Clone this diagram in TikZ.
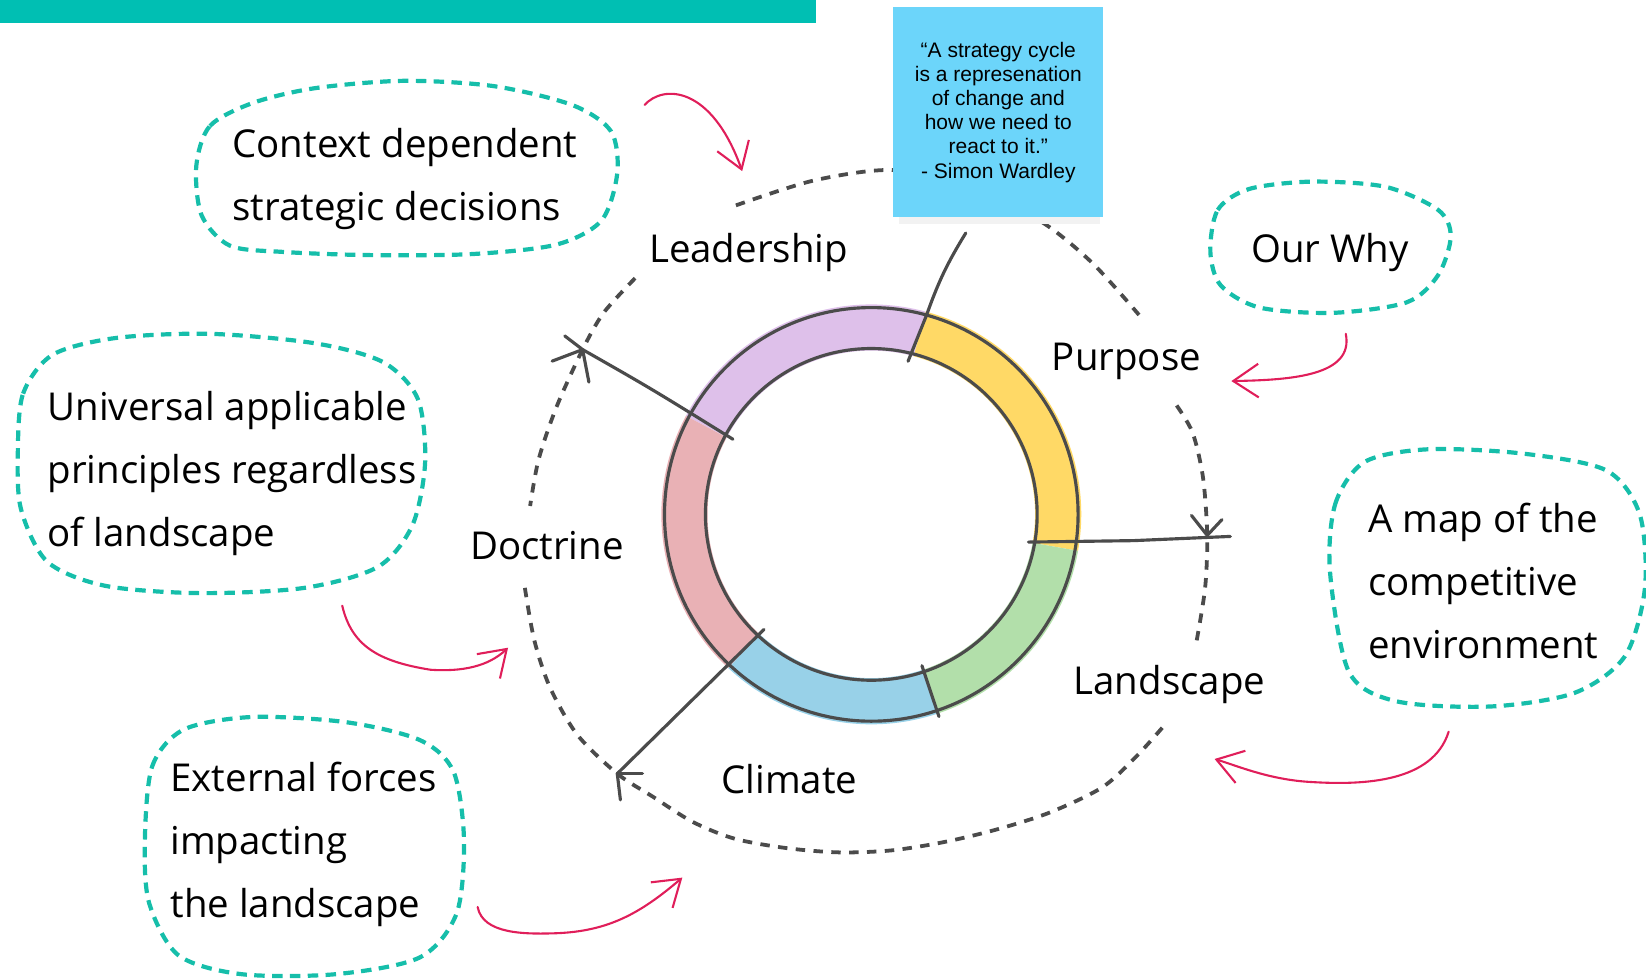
\documentclass[tikz,border=0pt]{standalone}
\usepackage{fontspec}
\setmainfont{Open Sans}
\newfontfamily\notefont{Liberation Sans}
\usetikzlibrary{arrows.meta}

\definecolor{bannerteal}{RGB}{0,191,179}
\definecolor{bubbleteal}{RGB}{22,190,170}
\definecolor{pinkline}{RGB}{224,30,90}
\definecolor{inkgray}{RGB}{75,75,75}
\definecolor{notesky}{RGB}{108,213,250}
\definecolor{ringpurple}{RGB}{222,192,234}
\definecolor{ringyellow}{RGB}{255,217,102}
\definecolor{ringgreen}{RGB}{178,223,170}
\definecolor{ringblue}{RGB}{152,209,232}
\definecolor{ringred}{RGB}{233,177,181}

\begin{document}
\begin{tikzpicture}[x=0.5pt, y=-0.5pt,
    stage/.style={font=\fontsize{18.3}{22}\selectfont, inner sep=0pt},
    bubbletext/.style={font=\fontsize{18.3}{30}\selectfont, align=left, anchor=west, inner sep=0pt},
    bubble/.style={bubbleteal, line width=2pt, dash pattern=on 5pt off 3.5pt},
    ink/.style={inkgray, line width=1.5pt, line cap=round, line join=round},
    loopdash/.style={inkgray, line width=1.8pt, dash pattern=on 4.5pt off 4pt},
    hint/.style={pinkline, line width=1pt, line cap=round, -{Straight Barb[length=12pt,width=16pt]}},
    notebox/.style={fill=notesky, minimum width=100pt, minimum height=100pt, inner sep=0pt, align=center,
        font=\notefont\fontsize{10}{11.5}\selectfont}]

    \useasboundingbox (0,0) rectangle (1568,932);

    % title bar, cut by the page edge
    \fill[bannerteal] (0,0) rectangle (777,22);

    % outer cycle
    \draw[loopdash] plot[smooth] coordinates {(1085,300) (1040,250) (990,210) (920,178) (850,162) (775,172) (700,196)};
    \draw[loopdash] plot[smooth] coordinates {(605,265) (575,298) (555,333) (530,388) (513,438) (505,482)};
    \draw[loopdash] plot[smooth] coordinates {(500,560) (509,610) (524,655) (550,700) (588,737) (622,759) (660,783)
        (700,799) (750,808) (800,812) (850,810) (900,802) (950,790) (1000,774) (1050,750) (1083,720) (1110,690)};
    \draw[loopdash] plot[smooth] coordinates {(1140,610) (1148,560) (1150,510) (1146,455) (1136,412) (1120,385)};

    % ring
    \coordinate (hub) at (830,490);
    \begin{scope}[shift={(hub)}]
        \fill[ringpurple] (-152:200) arc (-152:-75:200) -- (-75:156) arc (-75:-152:156) -- cycle;
        \fill[ringyellow] (-75:200) arc (-75:10:200) -- (10:156) arc (10:-75:156) -- cycle;
        \fill[ringgreen] (10:200) arc (10:71.5:200) -- (71.5:156) arc (71.5:10:156) -- cycle;
        \fill[ringblue] (71.5:200) arc (71.5:133:200) -- (133:156) arc (133:71.5:156) -- cycle;
        \fill[ringred] (133:200) arc (133:208:200) -- (208:156) arc (208:133:156) -- cycle;
        \draw[ink] (0,0) circle (197);
        \draw[ink] (0,0) circle (158);
        \draw[ink] (71.5:152) -- (71.5:203);
        \coordinate (rLP) at (-76.5:150);
        \coordinate (rLPo) at (-74.5:197);
        \coordinate (rPL) at (10:152);
        \coordinate (rCD) at (133:150);
        \coordinate (rDL) at (208.5:150);
    \end{scope}

    % sticky note
    \fill[black!5] (856,199) rectangle (1048,213);
    \node[notebox] (quote) at (951,107) {“A strategy cycle\\is a represenation\\of change and\\how we need to\\react to it.”\\- Simon Wardley};
    \coordinate (qfoot) at (920,222);

    % arrow heads on the cycle
    \coordinate (tipL) at (555,333);
    \coordinate (tipR) at (1150,510);
    \coordinate (tipB) at (588,737);

    \draw[ink] (rLP) -- (rLPo) to[bend left=6] (qfoot);
    \draw[ink] (rDL) .. controls (620,370) .. (tipL) -- ++(-17,-13);
    \draw[ink] (tipL) -- ++(-29,11);
    \draw[ink] (tipL) -- ++(6,31);
    \draw[ink] (rPL) -- (1080,515) -- (1172,511);
    \draw[ink] (tipR) -- ++(-15,-19);
    \draw[ink] (tipR) -- ++(14,-15);
    \draw[ink] (rCD) -- (tipB);
    \draw[ink] (tipB) -- ++(24,0);
    \draw[ink] (tipB) -- ++(3,25);

    % stages
    \node[stage] (lead) at (713,241) {Leadership};
    \node[stage] (purp) at (1073,344) {Purpose};
    \node[stage] (doct) at (521,520) {Doctrine};
    \node[stage] (land) at (1114,652) {Landscape};
    \node[stage] (clim) at (752,742) {Climate};

    % notes round the cycle
    \node[bubbletext] (ctx) at (221,171) {Context dependent\\strategic decisions};
    \draw[bubble] plot[smooth cycle] coordinates {(187,158) (200,120) (241,98) (300,84) (384,77) (470,82) (545,100)
        (582,125) (588,165) (573,210) (530,233) (450,242) (352,243) (270,240) (219,234) (192,205)};

    \node[stage] (why) at (1267,241) {Our Why};
    \draw[bubble] plot[smooth cycle] coordinates {(1153,240) (1160,200) (1190,180) (1250,173) (1320,178) (1370,200)
        (1382,225) (1370,262) (1340,288) (1270,298) (1200,293) (1163,272)};

    \node[bubbletext] (univ) at (45,451) {Universal applicable\\principles regardless\\of landscape};
    \draw[bubble] plot[smooth cycle] coordinates {(17,430) (22,375) (50,338) (110,322) (200,318) (300,327) (365,345)
        (398,380) (405,440) (393,500) (360,540) (290,560) (190,565) (100,558) (45,535) (20,485)};

    \node[bubbletext] (mapenv) at (1303,553) {A map of the\\competitive\\environment};
    \draw[bubble] plot[smooth cycle] coordinates {(1267,545) (1272,480) (1300,440) (1360,428) (1450,432) (1530,448)
        (1562,490) (1567,560) (1548,625) (1500,660) (1420,673) (1330,668) (1285,640)};

    \node[bubbletext] (ext) at (162,804) {External forces\\impacting\\the landscape};
    \draw[bubble] plot[smooth cycle] coordinates {(138,800) (145,730) (175,695) (240,683) (330,688) (400,705) (432,735)
        (442,800) (435,870) (400,912) (320,928) (230,928) (170,910) (142,860)};

    % pointers from the notes
    \coordinate (ctxA) at (614,100);
    \coordinate (leadA) at (707,163);
    \coordinate (whyA) at (1282,318);
    \coordinate (purpA) at (1173,363);
    \coordinate (univA) at (326,577);
    \coordinate (doctA) at (484,617);
    \coordinate (mapA) at (1380,697);
    \coordinate (landA) at (1157,723);
    \coordinate (extA) at (455,864);
    \coordinate (climA) at (650,836);

    \draw[hint] (ctxA) .. controls (632,80) and (678,82) .. (leadA);
    \draw[hint] (whyA) .. controls (1290,358) and (1230,362) .. (purpA);
    \draw[hint] (univA) .. controls (335,615) and (360,630) .. (410,638) .. controls (440,640) and (465,635) .. (doctA);
    \draw[hint] (mapA) .. controls (1365,745) and (1300,748) .. (1250,745) .. controls (1210,743) and (1180,730) .. (landA);
    \draw[hint] (extA) .. controls (460,890) and (500,890) .. (530,889) .. controls (580,887) and (610,870) .. (climA);
\end{tikzpicture}
\end{document}
